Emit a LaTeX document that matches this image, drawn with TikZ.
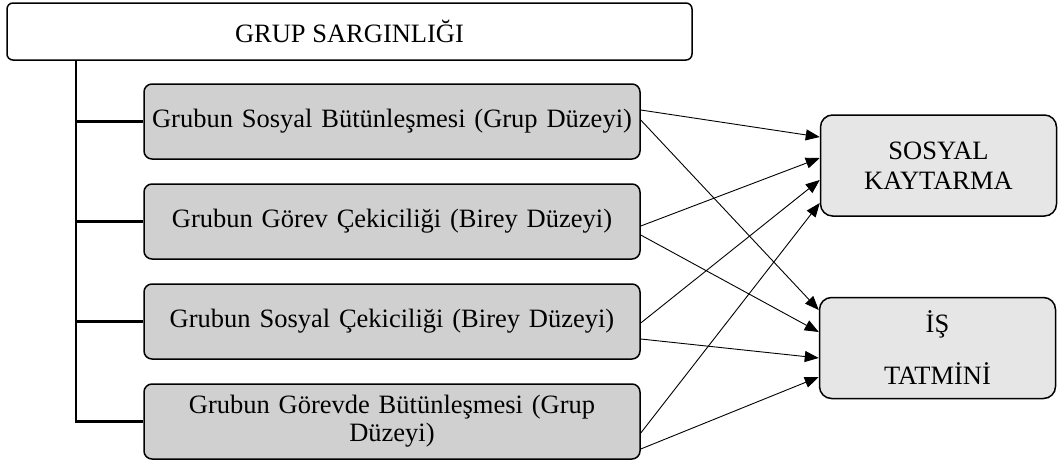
\documentclass[tikz,border=0pt]{standalone}
\usepackage{fontspec}
\setmainfont{Liberation Serif}
\usetikzlibrary{arrows.meta,positioning}
\hyphenpenalty=10000
\exhyphenpenalty=10000
\definecolor{lgray}{HTML}{D0D0D0}
\definecolor{rgray}{HTML}{E6E6E6}
\tikzset{
  topbox/.style={draw,line width=1.5pt,rounded corners=6pt,fill=white,minimum width=685pt,minimum height=57pt,font=\fontsize{26.5}{28}\selectfont},
  lbox/.style={draw,line width=1.5pt,rounded corners=8pt,fill=lgray,minimum width=496pt,minimum height=75pt,text width=488pt,inner xsep=4pt,inner ysep=3pt,align=center,font=\fontsize{26.5}{28}\selectfont},
  rbox/.style={draw,line width=1.5pt,rounded corners=12pt,fill=rgray,minimum width=236pt,minimum height=101pt,align=center,font=\fontsize{26.5}{30}\selectfont},
  tree/.style={line width=2.2pt},
  arr/.style={-{Triangle[length=14pt,width=11pt]},line width=0.9pt},
}
\begin{document}
\begin{tikzpicture}[x=1pt,y=-1pt,node distance=23.5pt]
  \useasboundingbox (0,0) rectangle (1059,461);
  % ust kutu
  \node[topbox] (grup) at (349.5,31.5) {GRUP SARGINLIĞI};
  % boyutlar
  \node[lbox] (g1) at (392,121.5) {Grubun Sosyal Bütünleşmesi (Grup Düzeyi)};
  \node[lbox,below=of g1] (g2) {Grubun Görev Çekiciliği (Birey Düzeyi)};
  \node[lbox,below=of g2] (g3) {Grubun Sosyal Çekiciliği (Birey Düzeyi)};
  \node[lbox,below=of g3] (g4) {Grubun Görevde Bütünleşmesi (Grup\\Düzeyi)};
  % sonuclar
  \node[rbox] (sk) at (938.5,165.5) {SOSYAL\\KAYTARMA};
  \node[rbox] (it) at (937.5,348) {İŞ\\[22pt]TATMİNİ};
  % agac
  \coordinate (sp) at (76,0);
  \draw[tree] (grup.south -| sp) |- (g4.west);
  \foreach \n in {g1,g2,g3} \draw[tree] (sp |- \n.west) -- (\n.west);
  % oklar
  \draw[arr] ([yshift=11.5pt]g1.east) -- ([yshift=28.5pt]sk.west);
  \draw[arr] ([yshift=1.5pt]g1.east) -- ([yshift=38pt]it.west);
  \draw[arr] ([yshift=-4.5pt]g2.east) -- ([yshift=7.5pt]sk.west);
  \draw[arr] ([yshift=-13.5pt]g2.east) -- ([yshift=16pt]it.west);
  \draw[arr] ([yshift=-1.5pt]g3.east) -- ([yshift=-14.5pt]sk.west);
  \draw[arr] ([yshift=-17.5pt]g3.east) -- ([yshift=-10pt]it.west);
  \draw[arr] ([yshift=-11.5pt]g4.east) -- ([yshift=-37.5pt]sk.west);
  \draw[arr] ([yshift=-27.5pt]g4.east) -- ([yshift=-29pt]it.west);
\end{tikzpicture}
\end{document}
